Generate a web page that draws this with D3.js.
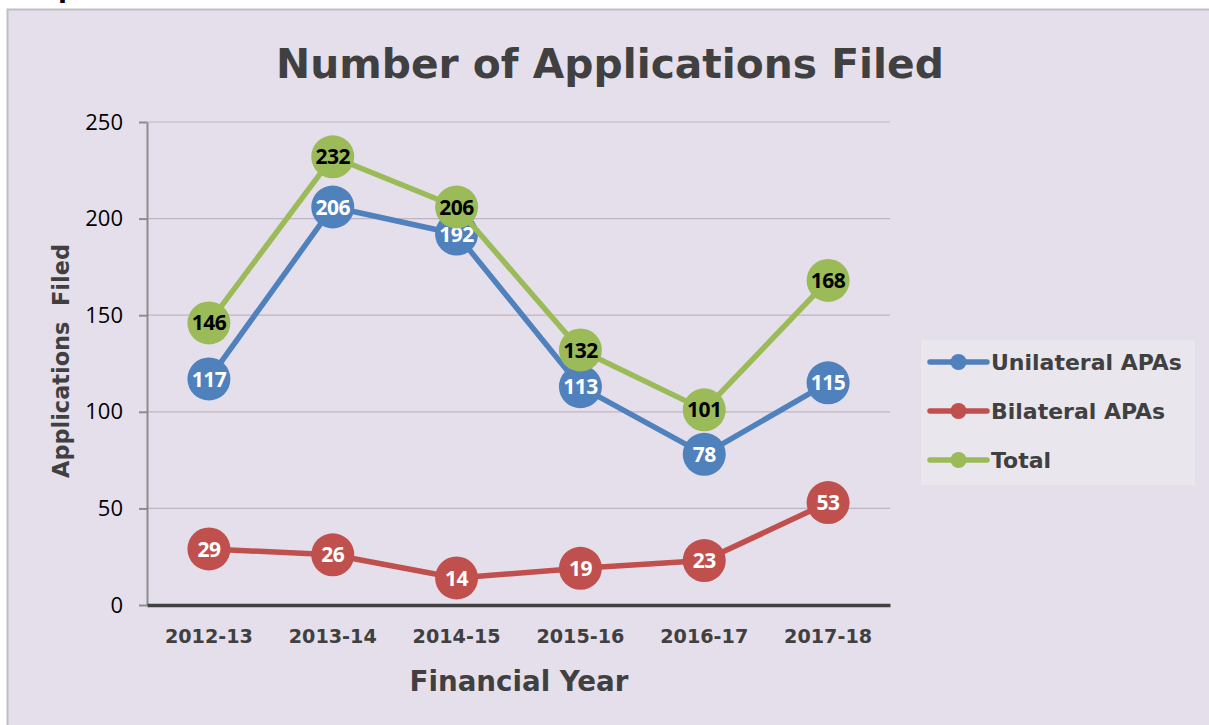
<!DOCTYPE html>
<html>
<head>
<meta charset="utf-8">
<script src="https://cdn.jsdelivr.net/npm/d3@7"></script>
<style>
  html, body { margin: 0; padding: 0; background: #ffffff; }
  svg { display: block; }
</style>
</head>
<body>
<div id="chart"></div>
<script>
"use strict";

// Data
const years = ["2012-13", "2013-14", "2014-15", "2015-16", "2016-17", "2017-18"];
const unilateral = [117, 206, 192, 113, 78, 115];
const bilateral = [29, 26, 14, 19, 23, 53];
const total = [146, 232, 206, 132, 101, 168];
const yTicks = [0, 50, 100, 150, 200, 250];

const series = [
    { name: "Unilateral APAs", values: unilateral, color: "#4F81BD", label: "#ffffff" },
    { name: "Bilateral APAs", values: bilateral, color: "#C0504D", label: "#ffffff" },
    { name: "Total", values: total, color: "#9BBB59", label: "#000000" },
];

const W = 1209, H = 725;
const plot = { left: 147, right: 890, top: 122, bottom: 605 };
const HEAD = "DejaVu Sans";

// Shrink or grow a text's font size so that it spans the given width
function fit(sel, width) {
    sel.each(function() {
        const size = parseFloat(this.getAttribute("font-size"));
        const len = this.getComputedTextLength();
        this.setAttribute("font-size", (size * width / len).toFixed(2));
    });
}

const svg = d3.select("#chart")
  .append("svg")
    .attr("width", W)
    .attr("height", H);

// Chart area background and frame
svg.append("rect")
    .attr("x", 7.5).attr("y", 9.5)
    .attr("width", W).attr("height", H)
    .attr("fill", "#E5DFEC")
    .attr("stroke", "#BFBFBF")
    .attr("stroke-width", 2);

// Cut-off text fragment at the very top of the page
svg.append("text")
    .attr("x", 58).attr("y", -3)
    .attr("font-family", HEAD)
    .attr("font-weight", "bold")
    .attr("font-size", 26)
    .text("p");

const x = d3.scaleBand()
    .domain(years)
    .range([plot.left, plot.right]);

const y = d3.scaleLinear()
    .domain([0, 250])
    .range([plot.bottom, plot.top]);

// Gridlines
svg.append("g")
  .selectAll("line")
  .data(yTicks.filter(d => d > 0))
  .join("line")
    .attr("x1", plot.left).attr("x2", plot.right)
    .attr("y1", d => y(d)).attr("y2", d => y(d))
    .attr("stroke", "#BDB5C2")
    .attr("stroke-width", 1.2);

// Y axis
const yAxis = svg.append("g")
    .attr("transform", `translate(${plot.left},0)`)
    .call(d3.axisLeft(y).tickValues(yTicks).tickSize(8).tickPadding(16).tickSizeOuter(0));
yAxis.select(".domain").attr("stroke", "#8C8C8C").attr("stroke-width", 2);
yAxis.selectAll(".tick line").attr("stroke", "#8C8C8C").attr("stroke-width", 2);
yAxis.selectAll(".tick text")
    .attr("font-family", "Open Sans")
    .attr("font-size", 22)
    .attr("fill", "#000000");

// X axis
const xAxis = svg.append("g")
    .attr("transform", `translate(0,${plot.bottom})`)
    .call(d3.axisBottom(x).tickSize(0).tickPadding(24).tickSizeOuter(0));
xAxis.select(".domain").attr("stroke", "#404040").attr("stroke-width", 3.5);
xAxis.selectAll(".tick text")
    .attr("font-family", HEAD)
    .attr("font-weight", "bold")
    .attr("font-size", 18)
    .attr("fill", "#404040")
    .call(fit, 88);

// Title and axis titles
svg.append("text")
    .attr("x", 610).attr("y", 78)
    .attr("text-anchor", "middle")
    .attr("font-family", HEAD)
    .attr("font-weight", "bold")
    .attr("font-size", 40)
    .attr("fill", "#404040")
    .text("Number of Applications Filed")
    .call(fit, 668);

svg.append("text")
    .attr("transform", "translate(69,361) rotate(-90)")
    .attr("text-anchor", "middle")
    .attr("font-family", HEAD)
    .attr("font-weight", "bold")
    .attr("font-size", 22)
    .attr("fill", "#404040")
    .attr("xml:space", "preserve")
    .text("Applications  Filed")
    .call(fit, 234);

svg.append("text")
    .attr("x", 519).attr("y", 691)
    .attr("text-anchor", "middle")
    .attr("font-family", HEAD)
    .attr("font-weight", "bold")
    .attr("font-size", 26)
    .attr("fill", "#404040")
    .text("Financial Year")
    .call(fit, 219);

// Lines, markers and data labels
const cx = d => x(d) + x.bandwidth() / 2;
const line = d3.line()
    .x((d, i) => cx(years[i]))
    .y(d => y(d));

const groups = svg.append("g")
  .selectAll("g")
  .data(series)
  .join("g");

groups.append("path")
    .attr("d", d => line(d.values))
    .attr("fill", "none")
    .attr("stroke", d => d.color)
    .attr("stroke-width", 5.5)
    .attr("stroke-linejoin", "round");

groups.each(function(s) {
    const g = d3.select(this);
    g.selectAll("circle")
      .data(s.values)
      .join("circle")
        .attr("cx", (d, i) => cx(years[i]))
        .attr("cy", d => y(d))
        .attr("r", 21.5)
        .attr("fill", s.color);
    g.selectAll("text")
      .data(s.values)
      .join("text")
        .attr("x", (d, i) => cx(years[i]))
        .attr("y", d => y(d))
        .attr("dy", "0.36em")
        .attr("text-anchor", "middle")
        .attr("font-family", "Open Sans")
        .attr("font-weight", "bold")
        .attr("font-size", 21)
        .attr("letter-spacing", -0.5)
        .attr("fill", s.label)
        .text(d => d);
});

// Legend
const legend = svg.append("g")
    .attr("transform", "translate(921,340)");
legend.append("rect")
    .attr("width", 274).attr("height", 145)
    .attr("fill", "#E9E6EE");

const items = legend.selectAll("g")
  .data(series)
  .join("g")
    .attr("transform", (d, i) => `translate(0,${22 + i * 49})`);
items.append("line")
    .attr("x1", 9).attr("x2", 66)
    .attr("stroke", d => d.color)
    .attr("stroke-width", 5.5)
    .attr("stroke-linecap", "round");
items.append("circle")
    .attr("cx", 37.5)
    .attr("r", 8)
    .attr("fill", d => d.color);
const legendText = items.append("text")
    .attr("x", 70)
    .attr("dy", "0.36em")
    .attr("font-family", HEAD)
    .attr("font-weight", "bold")
    .attr("font-size", 22)
    .attr("fill", "#404040")
    .text(d => d.name);
// Size all legend labels alike, from the width of the first one
{
    const first = legendText.node();
    const size = 22 * 191 / first.getComputedTextLength();
    legendText.attr("font-size", size.toFixed(2));
}
</script>
</body>
</html>
